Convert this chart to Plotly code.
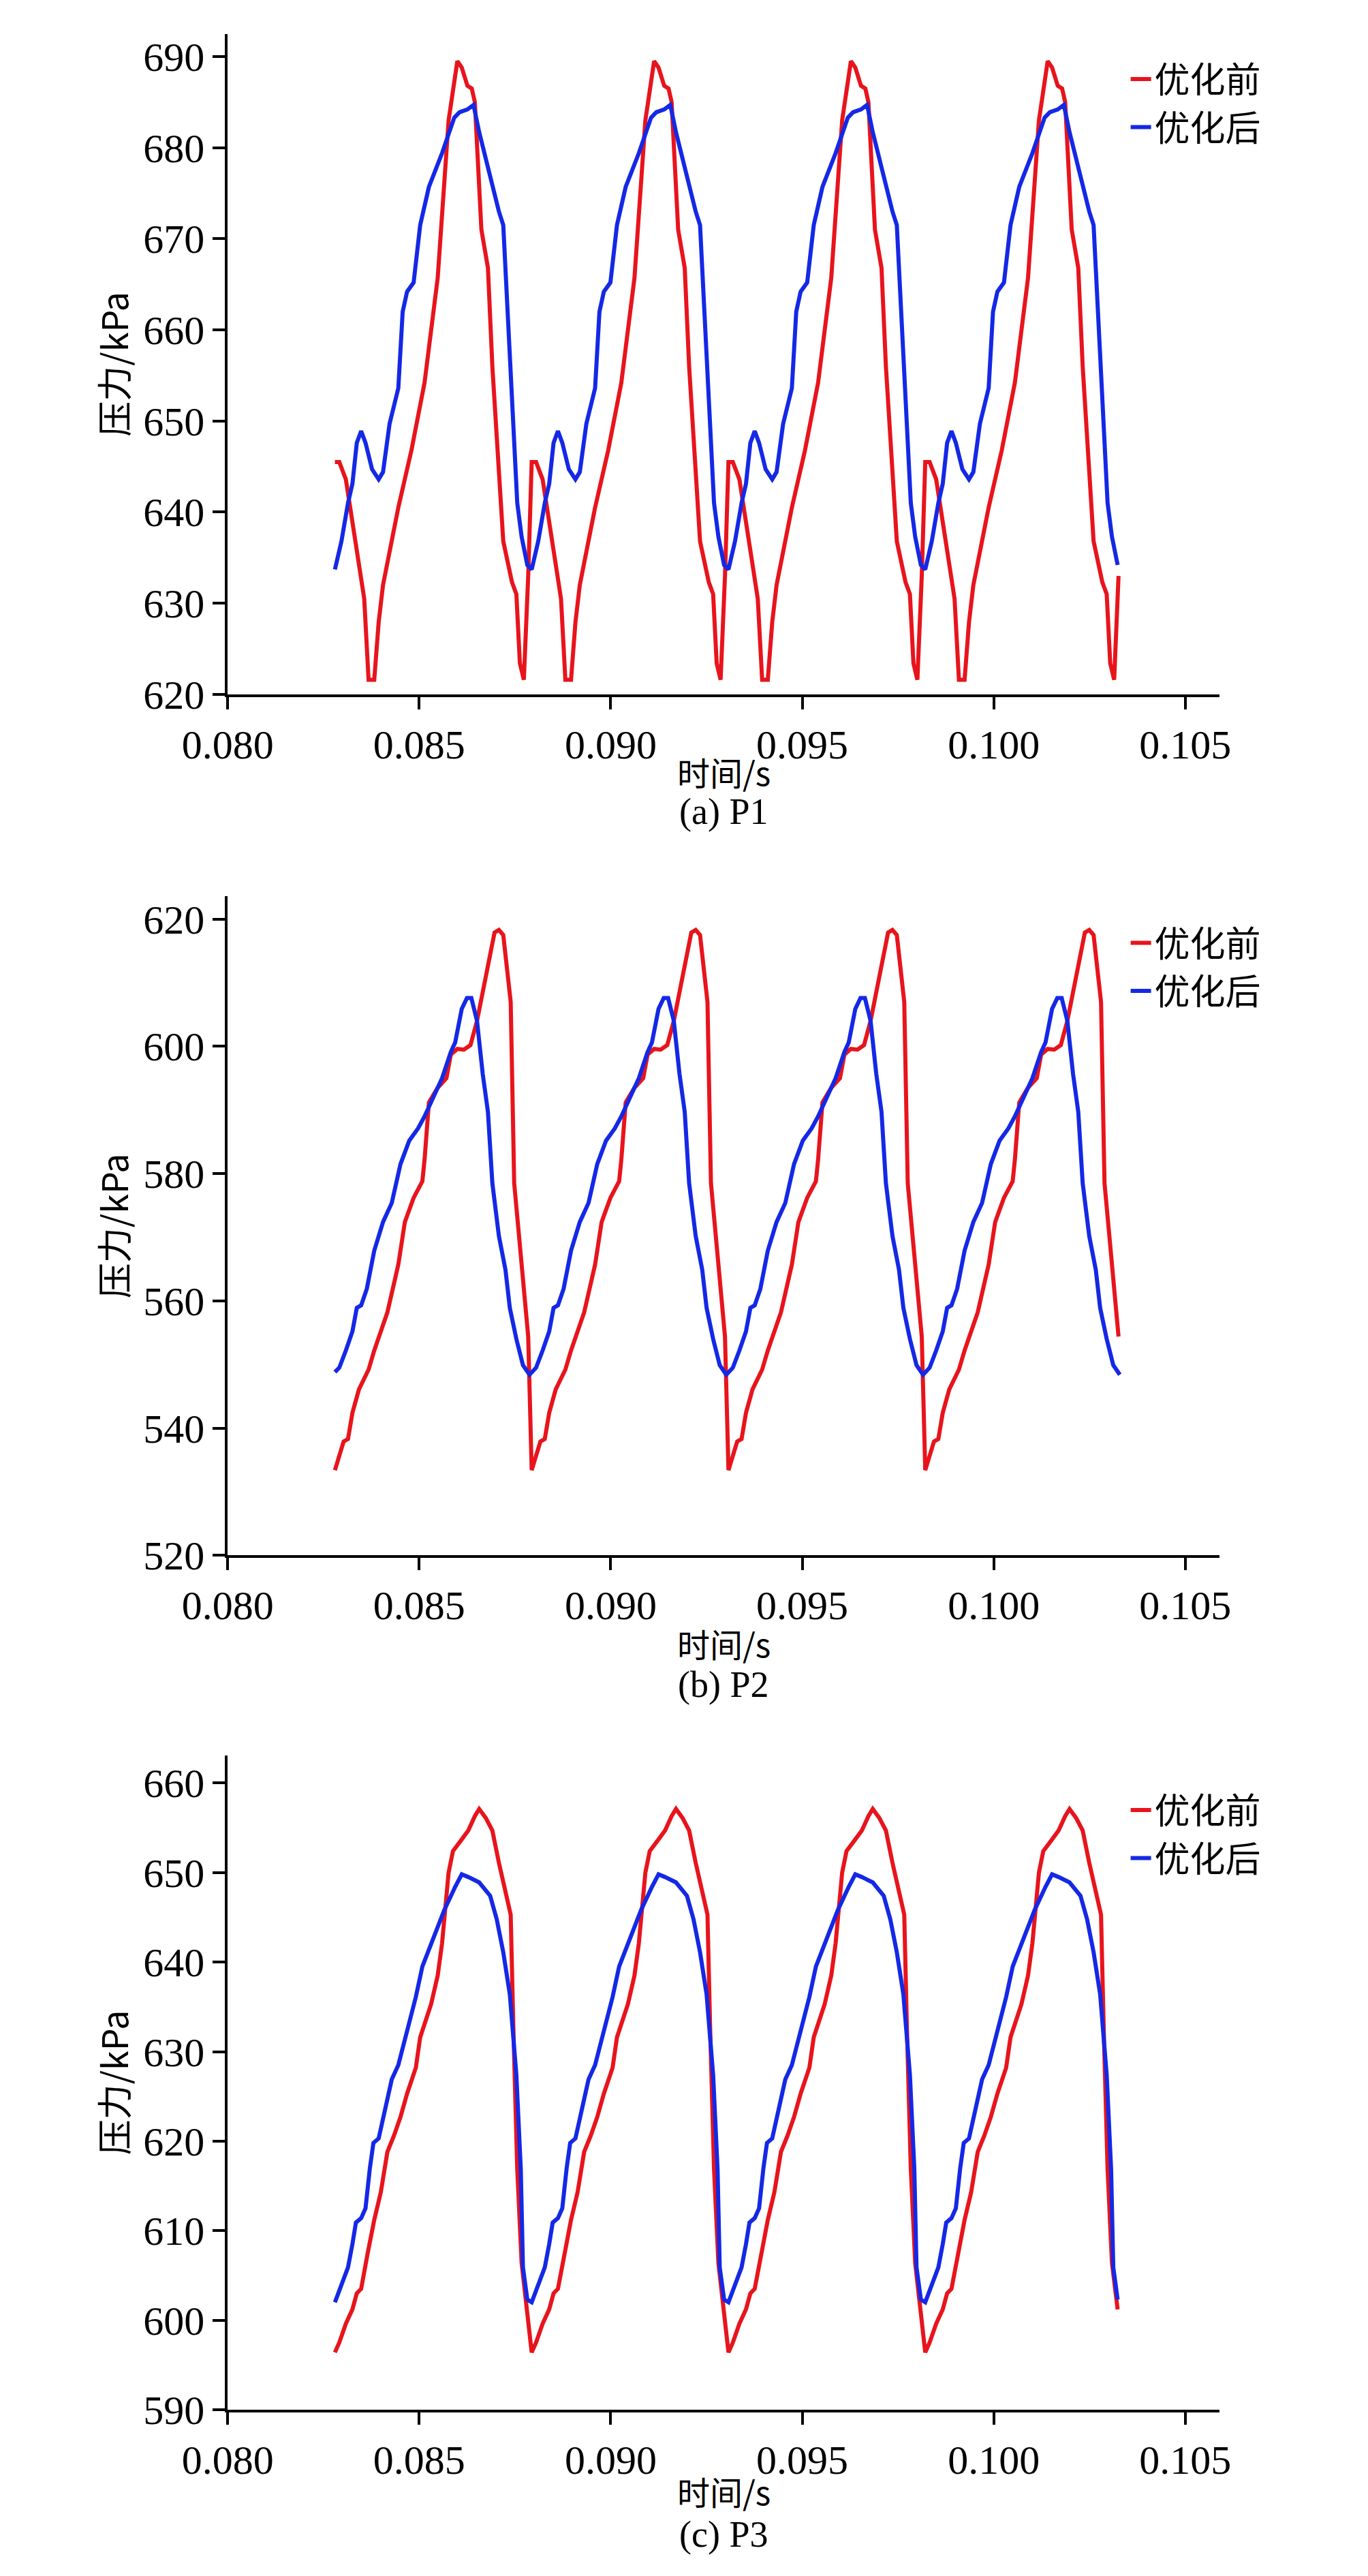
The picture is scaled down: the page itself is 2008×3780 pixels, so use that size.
import numpy as np
import plotly.graph_objects as go

T0 = 0.0828
T_END = 0.1033
PERIOD_MS = 5.137
N_PERIODS = 5

# One period of each curve: phase (ms from T0) and pressure (kPa)
p1_red_ph = [0,0.114,0.285,0.571,0.765,0.879,1.027,1.142,1.256,1.655,1.998,2.340,2.683,2.968,3.196,3.311,3.459,3.573,3.653,3.824,3.995,4.110,4.281,4.395,4.623,4.737,4.829,4.932,5.046]
p1_red_v = [645.5,645.5,643.6,635.8,630.5,621.6,621.6,627.9,632,640.5,646.8,654.2,665.7,683,689.5,688.8,686.8,686.5,685,671,666.8,656,643.6,636.8,632.3,631,623.4,621.6,633]
p1_blue_ph = [0,0.171,0.342,0.457,0.571,0.685,0.799,0.970,1.142,1.256,1.427,1.655,1.769,1.884,2.055,2.226,2.454,2.797,3.116,3.253,3.459,3.619,3.767,3.995,4.167,4.281,4.395,4.509,4.623,4.760,4.874,5.023]
p1_blue_v = [633.7,636.8,641,643.1,647.6,648.9,647.6,644.7,643.6,644.4,649.7,653.6,662,664.2,665.2,671.5,675.7,679.4,683.3,683.9,684.2,684.7,681.7,677.8,674.7,673,671.5,662,651.5,641,637.3,634.2]

p2_red_ph = [0,0.114,0.228,0.342,0.457,0.628,0.879,1.027,1.370,1.655,1.826,2.055,2.283,2.340,2.454,2.683,2.911,3.025,3.196,3.368,3.539,3.710,3.938,4.167,4.281,4.395,4.589,4.680,4.852,5.046]
p2_red_v = [533.4,535.6,537.9,538.3,542.4,546.1,549.2,552.2,558.2,565.7,572.4,576.2,578.8,582.2,591.2,593.5,595,598.7,599.6,599.5,600.2,604,610.8,617.9,618.3,617.5,607,578.5,567.2,554.4]
p2_blue_ph = [0,0.114,0.285,0.457,0.571,0.685,0.833,1.027,1.256,1.484,1.712,1.941,2.169,2.340,2.568,2.797,3.025,3.139,3.311,3.447,3.562,3.710,3.858,3.995,4.110,4.281,4.452,4.566,4.737,4.909,5.080]
p2_blue_v = [548.8,549.5,552.2,555.2,558.9,559.3,561.9,567.9,572.4,575.4,581.5,585.2,587.1,589,592,595,599.1,600.6,605.9,607.6,607.6,604,595.7,589.7,578.5,570.2,564.9,558.9,554,549.9,548.4]

p3_red_ph = [0,0.114,0.285,0.457,0.571,0.685,0.856,1.027,1.199,1.370,1.541,1.712,1.884,2.112,2.226,2.340,2.511,2.683,2.797,2.968,3.082,3.311,3.482,3.653,3.767,3.938,4.110,4.281,4.452,4.589,4.658,4.760,4.874,5.023]
p3_red_v = [596.4,597.5,599.6,601.2,603,603.5,607.5,611.2,614.3,618.8,620.6,622.7,625.3,628.2,631.6,633,635.3,638.5,642.1,650,652.4,653.7,654.7,656.3,657.1,656.1,654.7,651.1,647.9,645.3,632.7,616.9,606.4,601.2]
p3_blue_ph = [0,0.171,0.342,0.457,0.548,0.685,0.799,0.913,1.005,1.142,1.313,1.484,1.655,1.884,2.112,2.283,2.568,2.854,3.139,3.311,3.482,3.767,4.053,4.224,4.395,4.566,4.737,4.852,4.909,5.023]
p3_blue_v = [602,603.8,605.9,608.5,610.9,611.4,612.5,617,619.8,620.3,623.8,626.9,628.5,632.2,636.1,639.5,642.7,645.8,648.4,649.8,649.5,648.9,647.4,644.8,641.1,636.4,627.4,616.9,605.9,602.3]

x_ticks = [0.080, 0.085, 0.090, 0.095, 0.100, 0.105]
panels = [
    dict(red=(p1_red_ph, p1_red_v), blue=(p1_blue_ph, p1_blue_v), yr=[620, 692.5], yt=list(range(620, 691, 10)), cap="(a) P1"),
    dict(red=(p2_red_ph, p2_red_v), blue=(p2_blue_ph, p2_blue_v), yr=[520, 623.6], yt=list(range(520, 621, 20)), cap="(b) P2"),
    dict(red=(p3_red_ph, p3_red_v), blue=(p3_blue_ph, p3_blue_v), yr=[590, 663.1], yt=list(range(590, 661, 10)), cap="(c) P3"),
]

def tile(ph, v):
    t, y = [], []
    for k in range(N_PERIODS):
        for p, val in zip(ph, v):
            tt = T0 + (p + k * PERIOD_MS) / 1000.0
            if tt <= T_END + 1e-9:
                t.append(tt); y.append(val)
    return t, y

H = 3780.0
doms = [(42, 1020), (1319, 2295), (2591, 3560)]
xtitle_y = [1134, 2425, 3680]
cap_y = [1194, 2486, 3745]
leg_y = [145, 1424, 2708]
XL, XR = 0.1347, 0.8916
XC = 0.513
YT = 0.047
LX = 0.821

fig = go.Figure()
SER = "Liberation Serif"
CJK = "Noto Sans CJK SC"
layout = dict(width=2008, height=3780, margin=dict(l=0, r=0, t=0, b=0),
              paper_bgcolor="white", plot_bgcolor="white", annotations=[])
for i, pn in enumerate(panels):
    sfx = "" if i == 0 else str(i + 1)
    leg = "legend" if i == 0 else "legend" + str(i + 1)
    for key, col, name in [("red", "#e8141c", "优化前"), ("blue", "#1428e6", "优化后")]:
        t, y = tile(*pn[key])
        fig.add_trace(go.Scatter(x=t, y=y, mode="lines", name=name,
                                 line=dict(color=col, width=6),
                                 xaxis="x" + sfx, yaxis="y" + sfx, legend=leg))
    top, bot = doms[i]
    layout["xaxis" + sfx] = dict(domain=[XL, XR], range=[0.080, 0.1059],
        tickvals=x_ticks, tickformat=".3f", showline=True, linecolor="black", linewidth=4,
        ticks="outside", ticklen=18, tickwidth=4, tickcolor="black", showgrid=False, zeroline=False,
        tickfont=dict(family=SER, size=60, color="black"), anchor="y" + sfx)
    layout["yaxis" + sfx] = dict(domain=[1 - bot/H, 1 - top/H], range=pn["yr"], tickvals=pn["yt"],
        showline=True, linecolor="black", linewidth=4, ticks="outside", ticklen=18, tickwidth=4,
        tickcolor="black", showgrid=False, zeroline=False,
        tickfont=dict(family=SER, size=60, color="black"), anchor="x" + sfx)
    layout[leg] = dict(x=LX, y=1 - leg_y[i]/H, xanchor="left", yanchor="middle",
        font=dict(family=CJK, size=52, color="black"), bgcolor="rgba(0,0,0,0)", tracegroupgap=0)
    layout["annotations"] += [
        dict(text="时间/s", x=XC, y=1 - xtitle_y[i]/H, xref="paper", yref="paper",
             xanchor="center", yanchor="middle",
             showarrow=False, font=dict(family=CJK, size=48, color="black")),
        dict(text=pn["cap"], x=XC, y=1 - cap_y[i]/H, xref="paper", yref="paper",
             xanchor="center", yanchor="middle",
             showarrow=False, font=dict(family=SER, size=54, color="black")),
        dict(text="压力/kPa", x=YT, y=1 - (top + bot)/2/H, xref="paper", yref="paper",
             xanchor="center", yanchor="middle",
             textangle=-90, showarrow=False, font=dict(family=CJK, size=52, color="black")),
    ]
fig.update_layout(**layout)
fig.write_html("out.html")
